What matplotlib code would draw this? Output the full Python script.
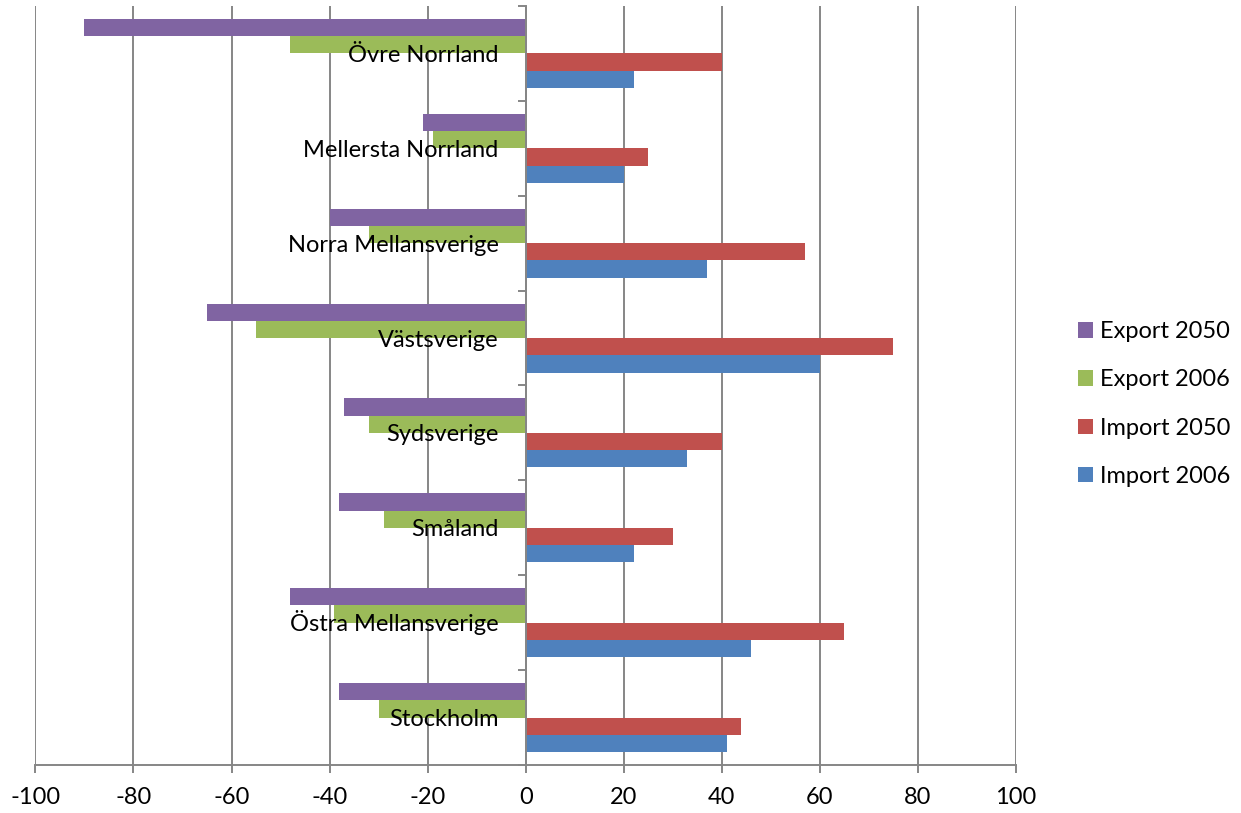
import numpy as np
import matplotlib.pyplot as plt

plt.rcParams['font.family'] = ['Lato', 'DejaVu Sans']
plt.rcParams['axes.unicode_minus'] = False

# regions, listed bottom to top as they appear on the chart
regions = ["Stockholm", "Östra Mellansverige", "Småland", "Sydsverige",
           "Västsverige", "Norra Mellansverige", "Mellersta Norrland", "Övre Norrland"]

import_2006 = [41, 46, 22, 33, 60, 37, 20, 22]
import_2050 = [44, 65, 30, 40, 75, 57, 25, 40]
export_2006 = [-30, -39, -29, -32, -55, -32, -19, -48]
export_2050 = [-38, -48, -38, -37, -65, -40, -21, -90]

series = [
    ("Import 2006", import_2006, "#4F81BD"),
    ("Import 2050", import_2050, "#C0504D"),
    ("Export 2006", export_2006, "#9BBB59"),
    ("Export 2050", export_2050, "#8064A2"),
]

grid_col = "#868686"
fs = 17
W, H = 1241, 813

fig = plt.figure(figsize=(W / 100, H / 100), dpi=100)
ax = fig.add_axes([35.4 / W, 1 - 765 / H, (1016 - 35.4) / W, (765 - 6) / H])

y = np.arange(len(regions))
h = 1 / 5.5  # four bars plus a 150% gap per category
handles = []
for j, (name, vals, col) in enumerate(series):
    b = ax.barh(y + (j - 1.5) * h, vals, height=h, color=col,
                edgecolor="none", label=name, zorder=2)
    handles.append(b)

ax.set_xlim(-100, 100)
ax.set_ylim(-0.5, len(regions) - 0.5)
ax.set_xticks(np.arange(-100, 101, 20))
ax.set_axisbelow(True)
ax.grid(axis="x", color=grid_col, lw=1.4)
ax.grid(axis="y", visible=False)

for s in ["top", "right"]:
    ax.spines[s].set_visible(False)
ax.spines["left"].set_position(("data", 0))
ax.spines["left"].set_color(grid_col)
ax.spines["left"].set_linewidth(1.4)
ax.spines["bottom"].set_color(grid_col)
ax.spines["bottom"].set_linewidth(1.4)

ax.tick_params(axis="x", length=6, width=1.4, color=grid_col,
               labelsize=fs, pad=10, labelcolor="black")
ax.set_yticks([])
ax.set_yticks(np.arange(-0.5, len(regions)), minor=True)
ax.tick_params(axis="y", which="minor", length=6, width=1.4, color=grid_col,
               direction="out")

# region names sit just left of the zero line, on top of the bars
for k, name in enumerate(regions):
    ax.annotate(name, xy=(0, k), xytext=(-27, -8.5), textcoords="offset pixels",
                ha="right", va="baseline", fontsize=fs, zorder=5)

leg = fig.legend(handles[::-1], [s[0] for s in series][::-1],
                 loc="center left", bbox_to_anchor=(1057 / W, 1 - 404 / H),
                 frameon=False, fontsize=fs, handlelength=0.62, handleheight=0.62,
                 handletextpad=0.3, labelspacing=1.15)

fig.savefig("out.png", dpi=100)
